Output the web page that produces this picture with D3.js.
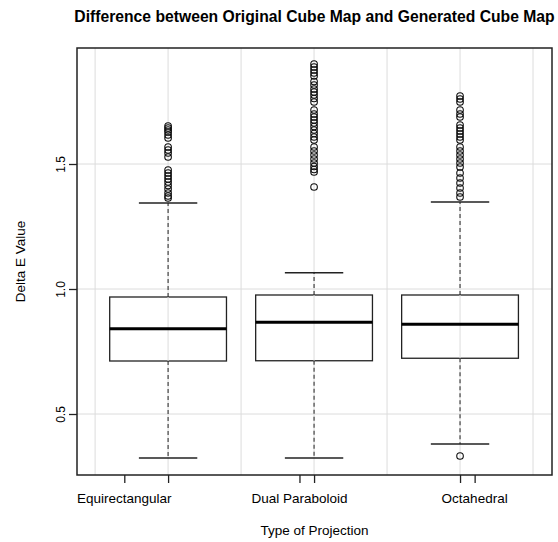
<!DOCTYPE html>
<html>
<head>
<meta charset="utf-8">
<script src="https://cdn.jsdelivr.net/npm/d3@7"></script>
<style>
  body { margin: 0; background: #fff; }
  text { font-family: "Liberation Sans", Arial, Helvetica, sans-serif; fill: #000; }
</style>
</head>
<body>
<script>
(function (){

    //categories and box statistics
    var categories = ["Equirectangular", "Dual Paraboloid", "Octahedral"];
    var lowWhisker = [0.324, 0.324, 0.380];
    var q1 = [0.712, 0.713, 0.723];
    var median = [0.841, 0.867, 0.859];
    var q3 = [0.968, 0.976, 0.976];
    var highWhisker = [1.344, 1.065, 1.348];

    //outliers for each projection
    var outliersEqui = [1.652, 1.644, 1.636, 1.628, 1.616, 1.604, 1.568, 1.556, 1.544, 1.528,
                        1.476, 1.464, 1.452, 1.44, 1.428, 1.414, 1.40, 1.384, 1.372, 1.364];
    var outliersDual = [1.90, 1.888, 1.876, 1.864, 1.852, 1.83, 1.816, 1.80, 1.788, 1.776, 1.762, 1.748,
                        1.716, 1.70, 1.688, 1.676, 1.664, 1.65, 1.636, 1.622, 1.608, 1.596,
                        1.568, 1.552, 1.536, 1.52, 1.504, 1.49, 1.478, 1.468, 1.408];
    var outliersOcta = [1.772, 1.76, 1.748, 1.716, 1.70, 1.688, 1.656, 1.644, 1.632, 1.62, 1.608, 1.596,
                        1.568, 1.552, 1.536, 1.52, 1.504, 1.488, 1.464, 1.444, 1.424, 1.404, 1.384, 1.368, 0.332];
    var outliers = [outliersEqui, outliersDual, outliersOcta];

    var yTicks = [0.5, 1.0, 1.5];
    var xGrid = [0.5, 1, 1.5, 2, 2.5, 3, 3.5];
    var labelPos = [0.7, 1.9, 3.1]; //where the category labels sit on the x axis

    var width = 558, height = 542;
    var left = 77, right = 552, top = 48, bottom = 475;

    var svg = d3.select("body")
        .append("svg")
        .attr("width", width)
        .attr("height", height);

    var x = d3.scaleLinear()
        .domain([0.376, 3.63])
        .range([left, right]);

    var y = d3.scaleLinear()
        .domain([0.256, 1.964])
        .range([bottom, top]);

    var boxHalf = 0.4, capHalf = 0.2;

    //grid
    svg.selectAll(".vgrid")
        .data(xGrid)
        .enter()
        .append("line")
        .attr("x1", function(d){ return x(d); })
        .attr("x2", function(d){ return x(d); })
        .attr("y1", top)
        .attr("y2", bottom)
        .style("stroke", "#dcdcdc")
        .style("stroke-width", 1);

    svg.selectAll(".hgrid")
        .data(yTicks)
        .enter()
        .append("line")
        .attr("x1", left)
        .attr("x2", right)
        .attr("y1", function(d){ return y(d); })
        .attr("y2", function(d){ return y(d); })
        .style("stroke", "#dcdcdc")
        .style("stroke-width", 1);

    //boxes
    var stats = categories.map(function(c, i){
        return {name: c, pos: i + 1, lo: lowWhisker[i], q1: q1[i], med: median[i], q3: q3[i], hi: highWhisker[i], out: outliers[i]};
    });

    var g = svg.selectAll(".box")
        .data(stats)
        .enter()
        .append("g")
        .attr("class", "box");

    //dashed whiskers
    g.append("line")
        .attr("x1", function(d){ return x(d.pos); })
        .attr("x2", function(d){ return x(d.pos); })
        .attr("y1", function(d){ return y(d.q3); })
        .attr("y2", function(d){ return y(d.hi); })
        .style("stroke", "#222")
        .style("stroke-dasharray", "4,3");
    g.append("line")
        .attr("x1", function(d){ return x(d.pos); })
        .attr("x2", function(d){ return x(d.pos); })
        .attr("y1", function(d){ return y(d.q1); })
        .attr("y2", function(d){ return y(d.lo); })
        .style("stroke", "#222")
        .style("stroke-dasharray", "4,3");

    //whisker caps
    ["lo", "hi"].forEach(function(k){
        g.append("line")
            .attr("x1", function(d){ return x(d.pos - capHalf); })
            .attr("x2", function(d){ return x(d.pos + capHalf); })
            .attr("y1", function(d){ return y(d[k]); })
            .attr("y2", function(d){ return y(d[k]); })
            .style("stroke", "#222")
            .style("stroke-width", 1.3);
    });

    g.append("rect")
        .attr("x", function(d){ return x(d.pos - boxHalf); })
        .attr("width", function(d){ return x(d.pos + boxHalf) - x(d.pos - boxHalf); })
        .attr("y", function(d){ return y(d.q3); })
        .attr("height", function(d){ return y(d.q1) - y(d.q3); })
        .style("fill", "#fff")
        .style("stroke", "#222")
        .style("stroke-width", 1.3);

    //grid line shows through the box
    g.append("line")
        .attr("x1", function(d){ return x(d.pos); })
        .attr("x2", function(d){ return x(d.pos); })
        .attr("y1", function(d){ return y(d.q3); })
        .attr("y2", function(d){ return y(d.q1); })
        .style("stroke", "#dcdcdc");

    g.append("line")
        .attr("x1", function(d){ return x(d.pos - boxHalf); })
        .attr("x2", function(d){ return x(d.pos + boxHalf); })
        .attr("y1", function(d){ return y(d.med); })
        .attr("y2", function(d){ return y(d.med); })
        .style("stroke", "#000")
        .style("stroke-width", 3);

    g.selectAll(".out")
        .data(function(d){ return d.out.map(function(v){ return {pos: d.pos, v: v}; }); })
        .enter()
        .append("circle")
        .attr("cx", function(d){ return x(d.pos); })
        .attr("cy", function(d){ return y(d.v); })
        .attr("r", 3.3)
        .style("fill", "none")
        .style("stroke", "#111")
        .style("stroke-width", 1.1);

    //frame
    svg.append("rect")
        .attr("x", left)
        .attr("y", top)
        .attr("width", right - left)
        .attr("height", bottom - top)
        .style("fill", "none")
        .style("stroke", "#222")
        .style("stroke-width", 1.5);

    //y axis
    var yAxis = svg.append("g")
        .attr("transform", "translate(" + left + ",0)")
        .call(d3.axisLeft(y).tickValues(yTicks).tickSize(8).tickFormat(d3.format(".1f")));
    yAxis.select(".domain").remove();
    yAxis.selectAll(".tick line").style("stroke", "#222").style("stroke-width", 1.3);
    yAxis.selectAll(".tick text")
        .attr("transform", "rotate(-90)")
        .attr("x", 0)
        .attr("y", -12)
        .attr("dy", 0)
        .attr("text-anchor", "middle")
        .style("font-size", "12px")
        .style("font-family", "Liberation Sans, Arial, sans-serif");

    //x axis ticks at box centres and at label positions
    var xAxis = svg.append("g")
        .attr("transform", "translate(0," + bottom + ")")
        .call(d3.axisBottom(x).tickValues([1, 2, 3].concat(labelPos)).tickSize(8).tickFormat(""));
    xAxis.select(".domain").remove();
    xAxis.selectAll(".tick line").style("stroke", "#222").style("stroke-width", 1.3);

    svg.selectAll(".xlabel")
        .data(categories)
        .enter()
        .append("text")
        .attr("x", function(d, i){ return x(labelPos[i]); })
        .attr("y", 503)
        .attr("text-anchor", "middle")
        .style("font-size", "13.5px")
        .text(function(d){ return d; });

    svg.append("text")
        .attr("x", (left + right) / 2)
        .attr("y", 535)
        .attr("text-anchor", "middle")
        .style("font-size", "13.5px")
        .text("Type of Projection");

    svg.append("text")
        .attr("transform", "translate(25," + ((top + bottom) / 2) + ") rotate(-90)")
        .attr("text-anchor", "middle")
        .style("font-size", "13.5px")
        .text("Delta E Value");

    svg.append("text")
        .attr("x", (left + right) / 2)
        .attr("y", 22)
        .attr("text-anchor", "middle")
        .style("font-size", "15.7px")
        .style("font-weight", "bold")
        .text("Difference between Original Cube Map and Generated Cube Map");

})();
</script>
</body>
</html>
